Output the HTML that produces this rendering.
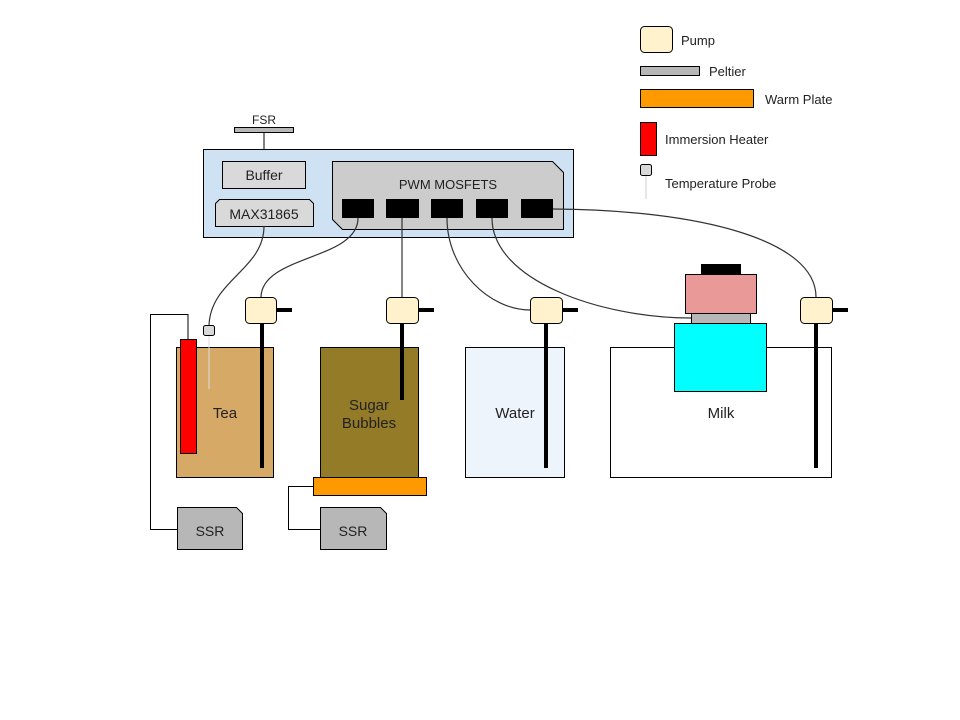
<!DOCTYPE html>
<html><head><meta charset="utf-8"><style>html,body{margin:0;padding:0;background:#fff}svg{display:block}text{font-family:"Liberation Sans",Arial,sans-serif;fill:#222}</style></head>
<body>
<svg width="960" height="720" viewBox="0 0 960 720" xmlns="http://www.w3.org/2000/svg">
<rect width="960" height="720" fill="#fff"/>
<!-- legend -->
<rect x="640.5" y="26.5" width="32" height="26" rx="4" fill="#fff2cc" stroke="#000"/>
<text x="681" y="45" font-size="13">Pump</text>
<rect x="640.5" y="66.5" width="59" height="9" fill="#b7b7b7" stroke="#000"/>
<text x="709" y="76" font-size="13">Peltier</text>
<rect x="640.5" y="89.5" width="113" height="18" fill="#ff9900" stroke="#000"/>
<text x="765" y="104" font-size="13">Warm Plate</text>
<rect x="640.5" y="122.5" width="16" height="33" fill="#ff0000" stroke="#000"/>
<text x="665" y="144" font-size="13">Immersion Heater</text>
<rect x="640.5" y="164.5" width="11" height="11" rx="2" fill="#d9d9d9" stroke="#000"/>
<line x1="646" y1="176" x2="646" y2="199" stroke="#ccc"/>
<text x="665" y="188" font-size="13">Temperature Probe</text>
<!-- FSR -->
<text x="264" y="124" font-size="12" text-anchor="middle">FSR</text>
<rect x="234.5" y="127.5" width="59" height="5" fill="#b7b7b7" stroke="#000"/>
<line x1="264" y1="133" x2="264" y2="161" stroke="#000"/>
<!-- main box -->
<rect x="203.5" y="149.5" width="370" height="88" fill="#cfe2f3" stroke="#000"/>
<rect x="222.5" y="161.5" width="83" height="27" fill="#d9d9d9" stroke="#000"/>
<text x="264" y="180" font-size="14" text-anchor="middle">Buffer</text>
<path d="M219.5 199.5 H309.5 L313.5 203.5 V226.5 H215.5 V203.5 Z" fill="#d9d9d9" stroke="#000"/>
<text x="264" y="219" font-size="14" text-anchor="middle">MAX31865</text>
<path d="M332.5 161.5 H552.5 L563.5 172.5 V229.5 H342.5 L332.5 219.5 Z" fill="#cccccc" stroke="#000"/>
<text x="448" y="189" font-size="13" text-anchor="middle">PWM MOSFETS</text>
<rect x="342" y="199" width="32" height="19" fill="#000"/>
<rect x="386" y="199" width="33" height="19" fill="#000"/>
<rect x="431" y="199" width="32" height="19" fill="#000"/>
<rect x="476" y="199" width="32" height="19" fill="#000"/>
<rect x="521" y="199" width="32" height="19" fill="#000"/>
<!-- wires -->
<g fill="none" stroke="#333" stroke-width="1.2">
<path d="M264 226 C264 270 210 280 209 326"/>
<path d="M358 218 C358 260 262 255 261 297"/>
<path d="M402 218 V297"/>
<path d="M447 218 C447 270 490 310 530 310"/>
<path d="M492 218 C492 280 600 318 691 318"/>
<path d="M553 209 C700 210 816 240 816 297"/>
</g>
<!-- tea -->
<polyline points="188,339 188,314.5 150.5,314.5 150.5,529.5 177,529.5" fill="none" stroke="#000"/>
<rect x="176.5" y="347.5" width="97" height="130" fill="#d6a966" stroke="#000"/>
<rect x="180.5" y="339.5" width="16" height="114" fill="#ff0000" stroke="#000"/>
<rect x="203.5" y="325.5" width="11" height="10" rx="2" fill="#d9d9d9" stroke="#000"/>
<line x1="209" y1="336" x2="209" y2="389" stroke="#ddd"/>
<text x="225" y="418" font-size="15" text-anchor="middle">Tea</text>
<path d="M177.5 507.5 H236.5 L242.5 513.5 V549.5 H177.5 Z" fill="#b7b7b7" stroke="#000"/>
<text x="210" y="536" font-size="14" text-anchor="middle">SSR</text>
<!-- sugar -->
<rect x="320.5" y="347.5" width="98" height="130" fill="#947b28" stroke="#000"/>
<text x="369" y="410" font-size="15" text-anchor="middle">Sugar</text>
<text x="369" y="428" font-size="15" text-anchor="middle">Bubbles</text>
<rect x="313.5" y="477.5" width="113" height="18" fill="#ff9900" stroke="#000"/>
<polyline points="313,486.5 288.5,486.5 288.5,529.5 320,529.5" fill="none" stroke="#000"/>
<path d="M320.5 507.5 H380.5 L386.5 513.5 V549.5 H320.5 Z" fill="#b7b7b7" stroke="#000"/>
<text x="353" y="536" font-size="14" text-anchor="middle">SSR</text>
<!-- water -->
<rect x="465.5" y="347.5" width="99" height="130" fill="#eef4fb" stroke="#000"/>
<text x="515" y="418" font-size="15" text-anchor="middle">Water</text>
<!-- milk -->
<rect x="610.5" y="347.5" width="221" height="130" fill="#fff" stroke="#000"/>
<text x="721" y="418" font-size="15" text-anchor="middle">Milk</text>
<rect x="674.5" y="323.5" width="92" height="68" fill="#00ffff" stroke="#000"/>
<rect x="691.5" y="313.5" width="59" height="10" fill="#b7b7b7" stroke="#000"/>
<rect x="685.5" y="274.5" width="71" height="39" fill="#ea9999" stroke="#000"/>
<rect x="701" y="264" width="40" height="10" fill="#000"/>
<!-- tubes -->
<g stroke="#000" stroke-width="4">
<line x1="262" y1="323" x2="262" y2="468"/><line x1="277" y1="310" x2="292" y2="310"/>
<line x1="402" y1="323" x2="402" y2="400"/><line x1="419" y1="310" x2="434" y2="310"/>
<line x1="546" y1="323" x2="546" y2="468"/><line x1="562" y1="310" x2="578" y2="310"/>
<line x1="816" y1="323" x2="816" y2="468"/><line x1="832" y1="310" x2="848" y2="310"/>
</g>
<!-- pumps -->
<rect x="245.5" y="297.5" width="31" height="26" rx="4" fill="#fff2cc" stroke="#000"/>
<rect x="386.5" y="297.5" width="32" height="26" rx="4" fill="#fff2cc" stroke="#000"/>
<rect x="530.5" y="297.5" width="32" height="26" rx="4" fill="#fff2cc" stroke="#000"/>
<rect x="800.5" y="297.5" width="32" height="26" rx="4" fill="#fff2cc" stroke="#000"/>
</svg>
</body></html>
